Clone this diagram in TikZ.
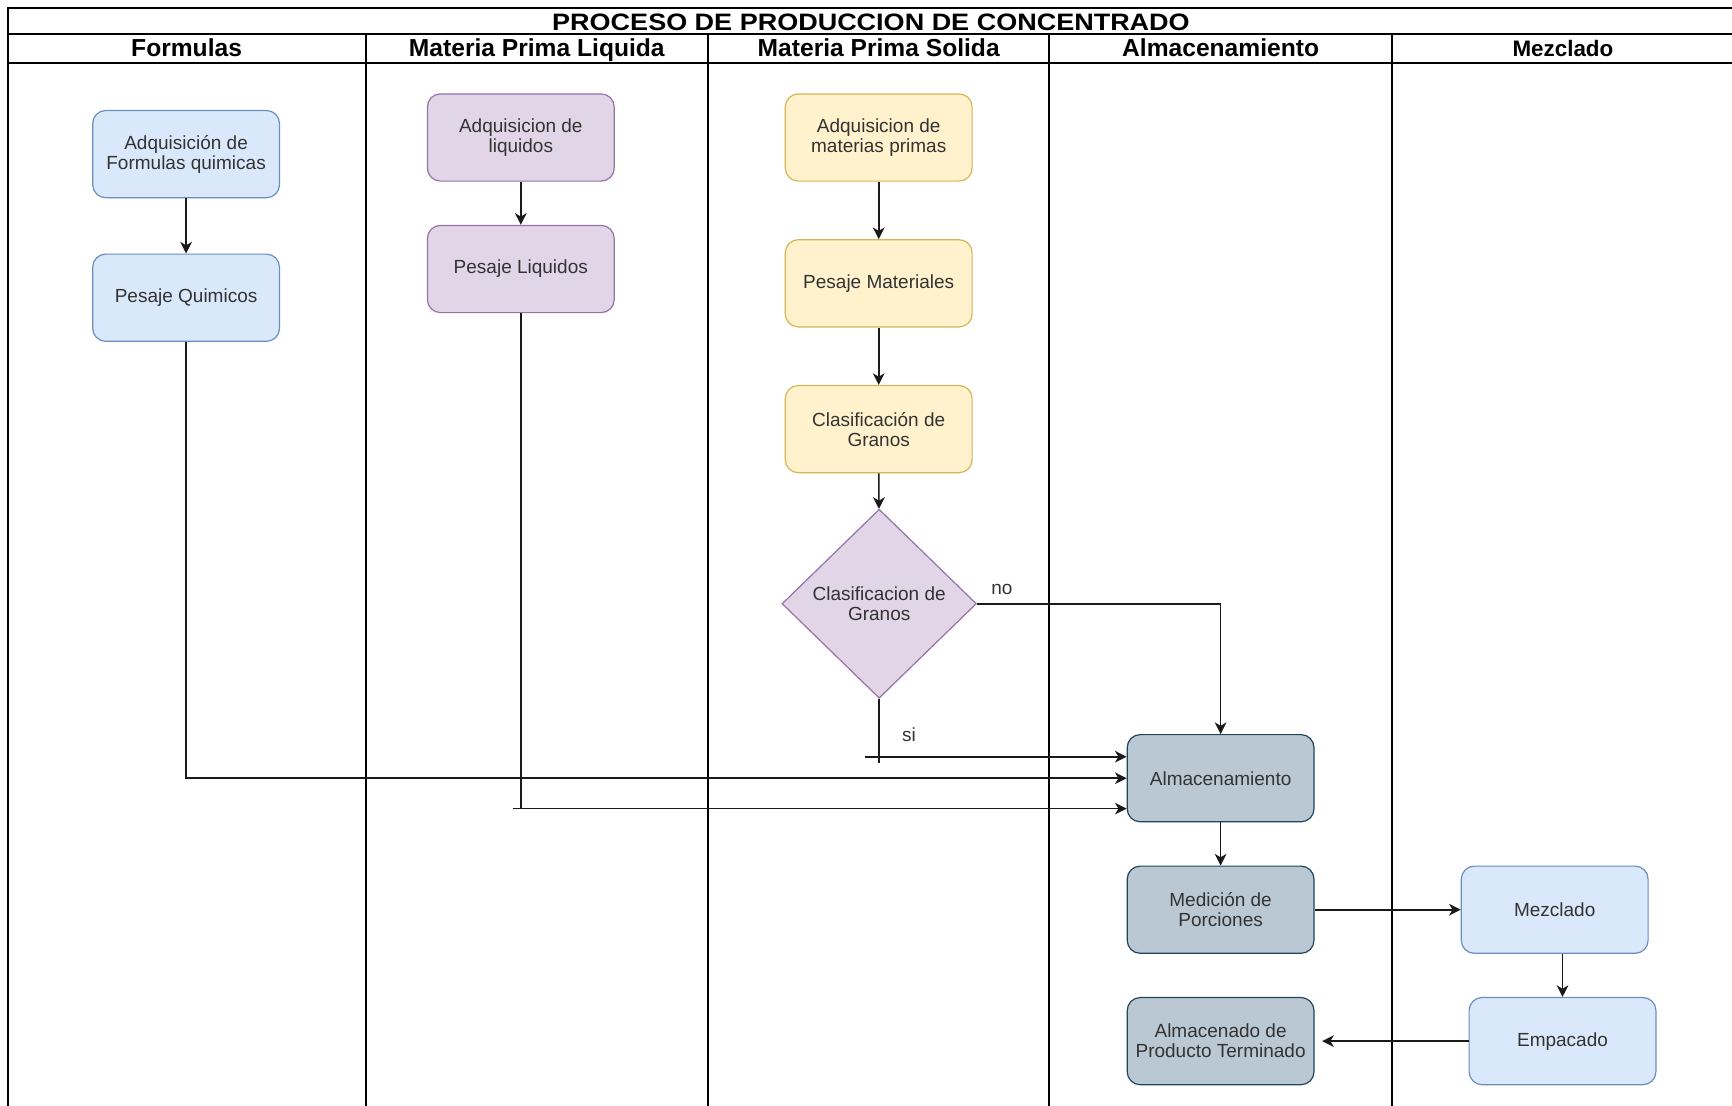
\documentclass[tikz,border=0pt]{standalone}
\usepackage{fontspec}
\setmainfont{Liberation Sans}
\usetikzlibrary{arrows.meta,shapes.geometric}

\definecolor{bluefill}{HTML}{DAE8FC}
\definecolor{bluedraw}{HTML}{6C8EBF}
\definecolor{purpfill}{HTML}{E1D5E7}
\definecolor{purpdraw}{HTML}{9673A6}
\definecolor{yelfill}{HTML}{FFF2CC}
\definecolor{yeldraw}{HTML}{D6B656}
\definecolor{slatefill}{HTML}{BAC8D3}
\definecolor{slatedraw}{HTML}{23445D}
\definecolor{txt}{HTML}{333333}
\definecolor{wire}{HTML}{1A1A1A}

\begin{document}
\begin{tikzpicture}[x=0.5pt,y=-0.5pt,
  proc/.style={rectangle, rounded corners=6.5pt, minimum width=93.4pt,
    minimum height=43.6pt, align=center, text=txt, inner sep=0pt,
    font=\fontsize{9.5}{10}\selectfont, line width=0.6pt},
  bluebox/.style={proc, fill=bluefill, draw=bluedraw},
  purpbox/.style={proc, fill=purpfill, draw=purpdraw},
  yelbox/.style={proc, fill=yelfill, draw=yeldraw},
  slatebox/.style={proc, fill=slatefill, draw=slatedraw},
  decision/.style={diamond, aspect=1, minimum width=97.2pt, minimum height=94.5pt,
    inner sep=0pt, align=center, text=txt, fill=purpfill, draw=purpdraw,
    font=\fontsize{9.5}{10}\selectfont, line width=0.6pt},
  wireline/.style={draw=wire, line width=0.8pt},
  conn/.style={wireline, -{Stealth[length=5.8pt,width=5.8pt,inset=1.7pt]}},
  edgelabel/.style={text=txt, font=\fontsize{9.5}{10}\selectfont, inner sep=0pt},
  lanerule/.style={draw=black, line width=1pt},
  lanehead/.style={font=\fontsize{12.3}{14}\selectfont\bfseries, inner sep=0pt,
    text height=9pt, text depth=2.6pt},
  titletext/.style={inner sep=0pt}]

  % canvas
  \fill[white] (0,0) rectangle (1732,1105);
  \useasboundingbox (0,0) rectangle (1732,1105);
  \clip (0,0) rectangle (1732,1105);

  % pool frame, title row, header row and lane dividers
  \draw[lanerule] (7.7,7.7) rectangle (1745,1120);
  \draw[lanerule] (7.7,34) -- (1745,34);
  \draw[lanerule] (7.7,63) -- (1745,63);
  \foreach \lx in {365.6,708,1049.4,1391.8}
    \draw[lanerule] (\lx,34) -- (\lx,1120);

  \node[titletext] (title) at (871,22)
    {\scalebox{1}[0.88]{\fontsize{13.5}{16}\selectfont\bfseries PROCESO DE PRODUCCION DE CONCENTRADO}};
  \node[lanehead] (h1) at (186.6,50) {Formulas};
  \node[lanehead] (h2) at (536.8,50) {Materia Prima Liquida};
  \node[lanehead] (h3) at (878.7,50) {Materia Prima Solida};
  \node[lanehead] (h4) at (1220.6,50) {Almacenamiento};
  \node[lanehead, font=\fontsize{11.2}{13}\selectfont\bfseries] (h5) at (1562.9,50) {Mezclado};

  % Formulas lane
  \node[bluebox] (f1) at (186.1,154.1) {Adquisición de\\Formulas quimicas};
  \node[bluebox] (f2) at (186.1,297.7) {Pesaje Quimicos};

  % Materia prima liquida lane
  \node[purpbox] (l1) at (520.8,137.5) {Adquisicion de\\liquidos};
  \node[purpbox] (l2) at (520.8,269) {Pesaje Liquidos};

  % Materia prima solida lane
  \node[yelbox] (s1) at (878.7,137.5) {Adquisicion de\\materias primas};
  \node[yelbox] (s2) at (878.7,283.3) {Pesaje Materiales};
  \node[yelbox] (s3) at (878.7,429.1) {Clasificación de\\Granos};
  \node[decision] (dec) at (879.2,603.7) {Clasificacion de\\Granos};

  % Almacenamiento lane
  \node[slatebox] (alm) at (1220.6,778.2) {Almacenamiento};
  \node[slatebox] (med) at (1220.6,909.7) {Medición de\\Porciones};
  \node[slatebox] (apt) at (1220.6,1041.1) {Almacenado de\\Producto Terminado};

  % Mezclado lane
  \node[bluebox] (mez) at (1554.7,909.7) {Mezclado};
  \node[bluebox] (emp) at (1562.5,1041.1) {Empacado};

  % vertical flows
  \draw[conn] (f1) -- (f2);
  \draw[conn] (l1) -- (l2);
  \draw[conn] (s1) -- (s2);
  \draw[conn] (s2) -- (s3);
  \draw[conn] (s3) -- (dec);

  % feeds into storage
  \draw[conn] (f2.south) |- (alm.west);
  \coordinate (lqstart) at (513,808.6);
  \draw[wireline] (l2.south) -- (l2.south |- lqstart);
  \draw[conn] (lqstart) -- (lqstart -| alm.west);
  \coordinate (sistart) at (865,756.7);
  \coordinate (siend) at (879.2,763);
  \draw[wireline] (dec.south) -- (siend);
  \draw[conn] (sistart) -- (sistart -| alm.west);
  \draw[conn] (dec.east) -| (alm.north);
  \node[edgelabel] (lblno) at (1001.9,589.9) {no};
  \node[edgelabel] (lblsi) at (909,734.6) {si};

  % storage, mixing and packing
  \draw[conn] (alm) -- (med);
  \draw[conn] (med) -- (mez);
  \draw[conn] (mez.south -| emp.north) -- (emp.north);
  \draw[conn, shorten >=3.8pt] (emp) -- (apt);
\end{tikzpicture}
\end{document}
